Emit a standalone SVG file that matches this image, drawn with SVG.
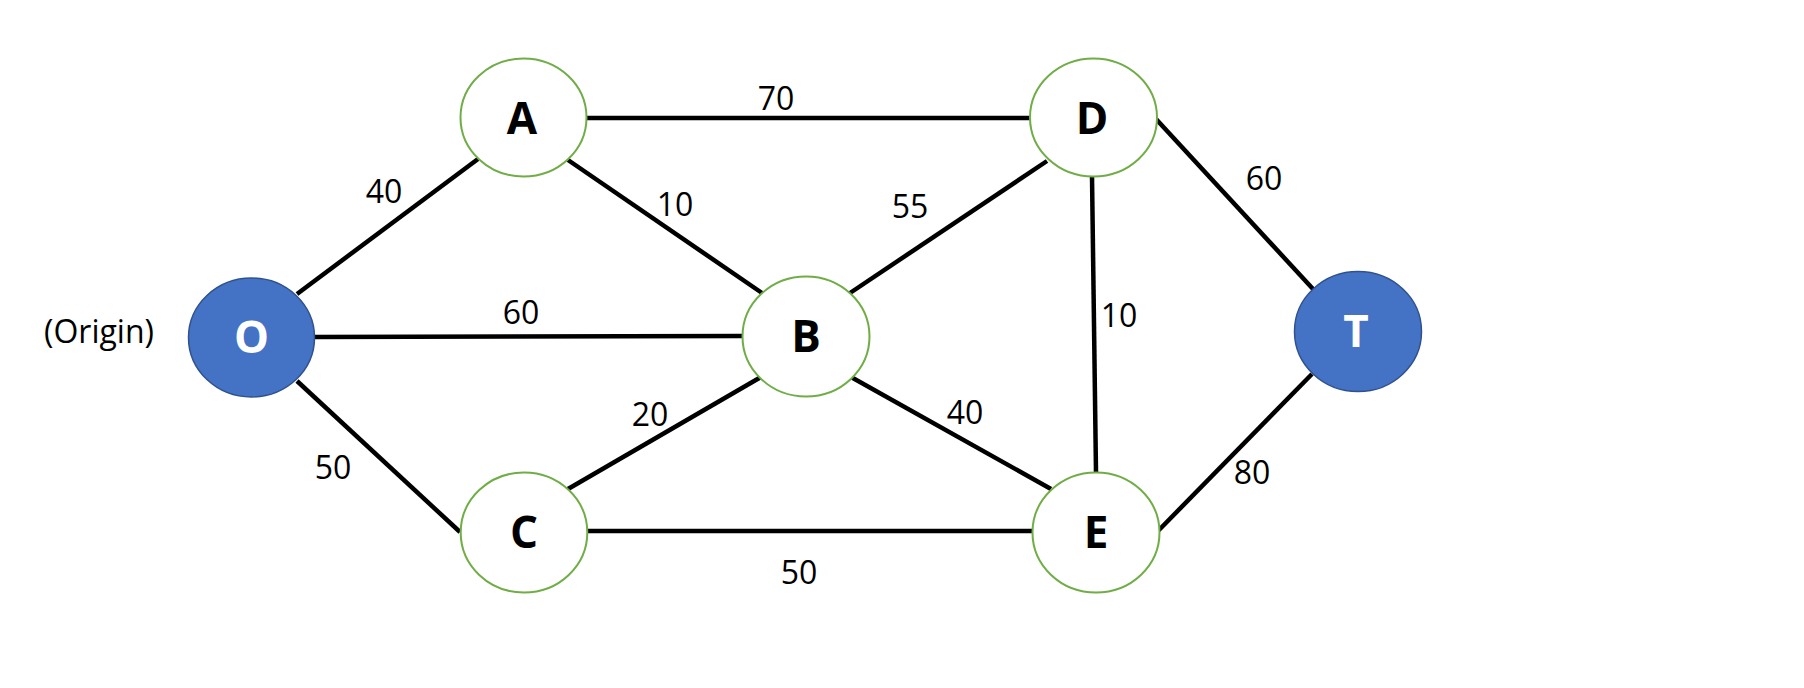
<svg xmlns="http://www.w3.org/2000/svg" width="1804" height="688" viewBox="0 0 1804 688">
<style>
.edge{stroke:#000;stroke-width:4.5;fill:none}
.n{fill:#fff;stroke:#70AD47;stroke-width:2}
.s{fill:#4472C4;stroke:#2F528F;stroke-width:1.5}
.lbl{font-family:"Open Sans","Liberation Sans",sans-serif;font-size:32px;fill:#000;text-anchor:middle}
.nl{font-family:"Open Sans","Liberation Sans",sans-serif;font-size:44px;font-weight:bold;fill:#000;text-anchor:middle}
.sl{font-family:"Open Sans","Liberation Sans",sans-serif;font-size:44px;font-weight:bold;fill:#fff;text-anchor:middle}
</style>
<rect width="1804" height="688" fill="#fff"/>
<g id="connectors">
<line class="edge" x1="297" y1="294" x2="478" y2="159"/>
<line class="edge" x1="587" y1="118" x2="1030" y2="118"/>
<line class="edge" x1="568" y1="160" x2="762" y2="293"/>
<line class="edge" x1="314" y1="337" x2="742" y2="336"/>
<line class="edge" x1="850" y1="293" x2="1047" y2="161"/>
<line class="edge" x1="1092" y1="176" x2="1096" y2="472"/>
<line class="edge" x1="1156" y1="119" x2="1313" y2="289"/>
<line class="edge" x1="297" y1="381" x2="460" y2="532"/>
<line class="edge" x1="568" y1="489" x2="761" y2="377"/>
<line class="edge" x1="851" y1="377" x2="1051" y2="489"/>
<line class="edge" x1="587" y1="531" x2="1032" y2="531"/>
<line class="edge" x1="1158" y1="531" x2="1312" y2="374"/>
</g>
<g id="edge-labels">
<text class="lbl" x="776" y="110">70</text>
<text class="lbl" x="384" y="203">40</text>
<text class="lbl" x="675" y="216">10</text>
<text class="lbl" x="910" y="218">55</text>
<text class="lbl" x="1264" y="190">60</text>
<text class="lbl" x="1119" y="327">10</text>
<text class="lbl" x="521" y="324">60</text>
<text class="lbl" x="650" y="426">20</text>
<text class="lbl" x="333" y="479">50</text>
<text class="lbl" x="965" y="424">40</text>
<text class="lbl" x="1252" y="484">80</text>
<text class="lbl" x="799" y="584">50</text>
</g>
<text id="origin-label" class="lbl" x="99" y="343">(Origin)</text>
<g id="node-O">
<ellipse class="s" cx="251.5" cy="337.5" rx="63" ry="59.5"/>
<text class="sl" x="251.5" y="353">O</text>
</g>
<g id="node-A">
<ellipse class="n" cx="523.5" cy="117.5" rx="63" ry="59"/>
<text class="nl" x="522" y="134">A</text>
</g>
<g id="node-D">
<ellipse class="n" cx="1093.5" cy="117.5" rx="63.5" ry="59"/>
<text class="nl" x="1092" y="134">D</text>
</g>
<g id="node-B">
<ellipse class="n" cx="806" cy="336.5" rx="63.5" ry="60"/>
<text class="nl" x="806" y="352">B</text>
</g>
<g id="node-C">
<ellipse class="n" cx="524" cy="532.5" rx="63.3" ry="60"/>
<text class="nl" x="524" y="548">C</text>
</g>
<g id="node-E">
<ellipse class="n" cx="1096" cy="532.5" rx="63.5" ry="60"/>
<text class="nl" x="1096" y="548">E</text>
</g>
<g id="node-T">
<ellipse class="s" cx="1358" cy="331.5" rx="63.5" ry="60"/>
<text class="sl" x="1356" y="347">T</text>
</g>
</svg>
